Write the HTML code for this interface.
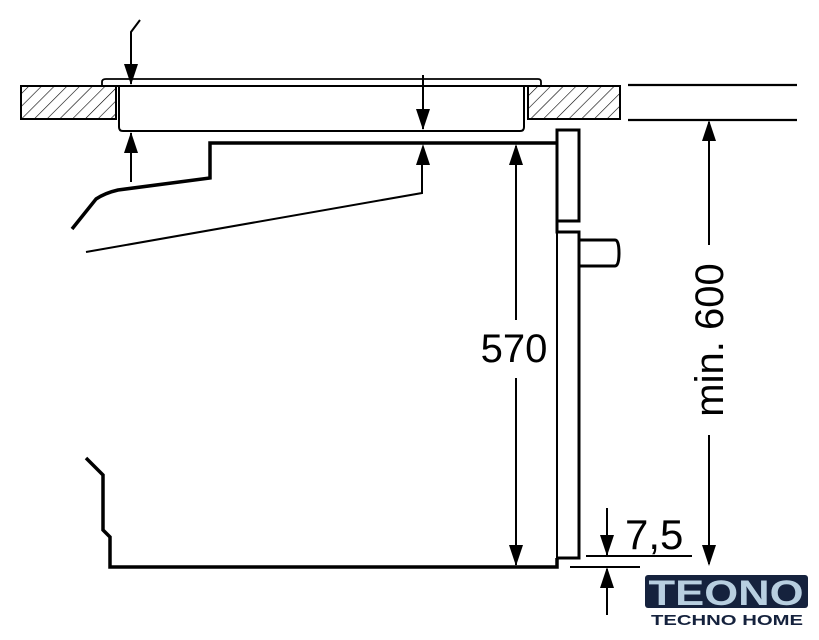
<!DOCTYPE html>
<html><head><meta charset="utf-8"><style>
html,body{margin:0;padding:0;background:#fff;}
svg{display:block}
</style></head><body>
<svg width="819" height="640" viewBox="0 0 819 640" xmlns="http://www.w3.org/2000/svg">
<defs>
<pattern id="h" width="9" height="9" patternUnits="userSpaceOnUse" patternTransform="rotate(45)">
<line x1="0" y1="0" x2="0" y2="9" stroke="#000" stroke-width="1.2"/>
</pattern>
</defs>
<g fill="none" stroke="#000">
<rect x="21" y="86" width="95" height="33" fill="url(#h)" stroke-width="2"/>
<rect x="528" y="86" width="92" height="33" fill="url(#h)" stroke-width="2"/>
<line x1="628" y1="85" x2="797" y2="85" stroke-width="2.2"/>
<line x1="628" y1="120" x2="797" y2="120" stroke-width="2.2"/>
<path d="M102,85 L102,82 Q102,79 106,79 L538,79 Q541,79 541,82 L541,85" stroke-width="1.8"/>
<line x1="102" y1="86" x2="541" y2="86" stroke-width="2"/>
<path d="M119,86 L119,127 Q119,131 123,131 L520,131 Q524,131 524,127 L524,86" stroke-width="2"/>
<path d="M557,143 L210,143 L210,178 L118,190 Q105,193 96,199 L72,229" stroke-width="3.5"/>
<path d="M86,252 L422,193 L422,150" stroke-width="2"/>
<path d="M86,458 L103,475 L103,530 L110,537 L110,567 L557,567 L557,558" stroke-width="3.5"/>
<path d="M557,143 L557,130 L579,130 L579,221 L557,221 Z" stroke-width="3"/>
<path d="M557,221 L557,232 L579,232 L579,558 L557,558" stroke-width="3"/>
<line x1="557" y1="232" x2="557" y2="558" stroke-width="2"/>
<path d="M579,240 L615,240 Q619,240 619,253 Q619,266 615,266 L579,266" stroke-width="3"/>
<path d="M140,20 L131,32 L131,84" stroke-width="2"/>
<line x1="131" y1="182" x2="131" y2="133" stroke-width="2"/>
<line x1="423" y1="75" x2="423" y2="129" stroke-width="2"/>
<line x1="516" y1="320" x2="516" y2="146" stroke-width="2"/>
<line x1="516" y1="378" x2="516" y2="565" stroke-width="2"/>
<line x1="709" y1="245" x2="709" y2="122" stroke-width="2"/>
<line x1="709" y1="435" x2="709" y2="564" stroke-width="2"/>
<line x1="607" y1="508" x2="607" y2="555" stroke-width="2"/>
<line x1="607" y1="615" x2="607" y2="569" stroke-width="2"/>
<line x1="586" y1="556" x2="692" y2="556" stroke-width="2"/>
<line x1="570" y1="567" x2="640" y2="567" stroke-width="2"/>
</g>
<g fill="#000">
<polygon points="124,64 138,64 131,85"/>
<polygon points="124,153 138,153 131,132"/>
<polygon points="416,109 430,109 423,130"/>
<polygon points="416,165 430,165 423,144"/>
<polygon points="509,165 523,165 516,144"/>
<polygon points="509,545 523,545 516,566"/>
<polygon points="702,141 716,141 709,120"/>
<polygon points="702,545 716,545 709,566"/>
<polygon points="600,535 614,535 607,556"/>
<polygon points="600,588 614,588 607,567"/>
</g>
<g font-family="Liberation Sans, sans-serif" fill="#000">
<text x="514" y="362" font-size="40" text-anchor="middle">570</text>
<text transform="translate(723,340) rotate(-90)" font-size="40" text-anchor="middle">min. 600</text>
<text x="625" y="549" font-size="42">7,5</text>
</g>
<g font-family="Liberation Sans, sans-serif" font-weight="bold">
<rect x="645" y="575" width="163" height="33" rx="3" fill="#15223d"/>
<text x="726" y="605" font-size="35" text-anchor="middle" fill="#b8cfe0" textLength="155" lengthAdjust="spacingAndGlyphs">TEONO</text>
<text x="727" y="625" font-size="15" text-anchor="middle" fill="#15223d" textLength="152" lengthAdjust="spacingAndGlyphs">TECHNO HOME</text>
</g>
</svg>
</body></html>
